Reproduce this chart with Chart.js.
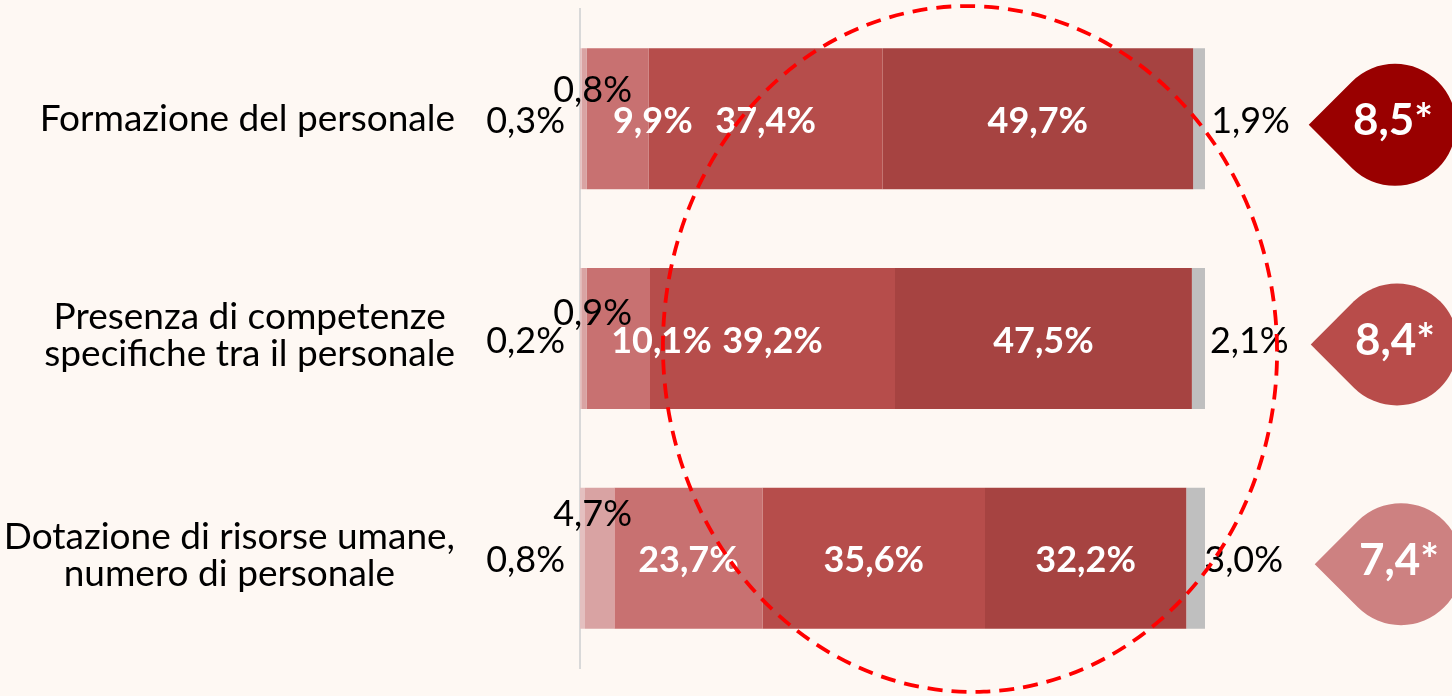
<!DOCTYPE html>
<html>
<head>
<meta charset="utf-8">
<script src="https://cdn.jsdelivr.net/npm/chart.js@4/dist/chart.umd.min.js"></script>
<style>
  html, body { margin: 0; padding: 0; background: #fef8f3; }
  #wrap { width: 1452px; height: 696px; position: relative; }
</style>
</head>
<body>
<div id="wrap"><canvas id="c" width="1452" height="696"></canvas></div>
<script>
// ---- DATA ----
const categories = [
  ["Formazione del personale"],
  ["Presenza di competenze", "specifiche tra il personale"],
  ["Dotazione di risorse umane,", "numero di personale"]
];
const seriesNames = ["s1", "s2", "s3", "s4", "s5", "nr"];
const s1 = [0.3, 0.2, 0.8];
const s2 = [0.8, 0.9, 4.7];
const s3 = [9.9, 10.1, 23.7];
const s4 = [37.4, 39.2, 35.6];
const s5 = [49.7, 47.5, 32.2];
const nr = [1.9, 2.1, 3.0];
const scores = [8.5, 8.4, 7.4];
const scoreLabels = ["8,5*", "8,4*", "7,4*"];

// ---- STYLE ----
const segColors = ["#e4c0c0", "#d9a3a3", "#c87171", "#b64d4b", "#a64341", "#bfbfbf"];
const dropColors = ["#990000", "#b84c4a", "#cd8181"];
const FONT = "Lato, 'Open Sans', sans-serif";
const FS_CAT = 37;
const FS = 36;

function fmt(v) { return v.toFixed(1).replace('.', ',') + '%'; }

function txt(ctx, s, x, yc, align, bold, color, size) {
  size = size || FS;
  ctx.font = (bold ? "bold " : "") + size + "px " + FONT;
  ctx.fillStyle = color;
  ctx.textAlign = align;
  ctx.textBaseline = "alphabetic";
  ctx.fillText(s, x, yc + size * 0.355);
}

const decor = {
  id: 'decor',
  beforeDraw(chart) {
    const ctx = chart.ctx;
    ctx.save();
    ctx.fillStyle = '#fef8f3';
    ctx.fillRect(0, 0, chart.width, chart.height);
    ctx.restore();
  },
  afterDraw(chart) {
    const ctx = chart.ctx;
    const ys = chart.scales.y;
    const left = chart.chartArea.left;
    ctx.save();
    // category labels: block right-aligned at 455, lines centered in block
    categories.forEach((lines, i) => {
      const yc = ys.getPixelForValue(i);
      ctx.font = FS_CAT + "px " + FONT;
      const w = Math.max(...lines.map(l => ctx.measureText(l).width));
      const cx = 455 - w / 2;
      const n = lines.length;
      lines.forEach((l, k) => {
        const y = yc + (k - (n - 1) / 2) * 37 - (n > 1 ? 3 : 0) - 1;
        txt(ctx, l, cx, y, 'center', false, '#000', FS_CAT);
      });
    });
    // value labels
    const d1dy = [-31, -28, -46];
    const d2dx = [35, 43, 0];
    chart.data.datasets.forEach((ds, di) => {
      const meta = chart.getDatasetMeta(di);
      meta.data.forEach((el, j) => {
        const v = ds.data[j];
        const yc = el.y + 1.5;
        const s = fmt(v);
        if (di === 0) {
          txt(ctx, s, left - 15, yc, 'right', false, '#000');
        } else if (di === 1) {
          txt(ctx, s, left + 52, yc + d1dy[j], 'right', false, '#000');
        } else if (di === 5) {
          txt(ctx, s, el.base + 18, yc, 'left', false, '#000');
        } else {
          const dx = di === 2 ? d2dx[j] : 0;
          txt(ctx, s, (el.x + el.base) / 2 + dx, yc, 'center', true, '#fff');
        }
      });
    });
    // dashed ellipse
    ctx.beginPath();
    ctx.setLineDash([15, 9]);
    ctx.lineWidth = 3.8;
    ctx.strokeStyle = '#ff0000';
    ctx.ellipse(970, 349, 307, 343, -0.04, 0, Math.PI * 2);
    ctx.stroke();
    ctx.setLineDash([]);
    // score drops
    const dropCx = [1395, 1397, 1401];
    const r = 61;
    scores.forEach((sc, i) => {
      const cy = ys.getPixelForValue(i) + 6;
      const cx = dropCx[i];
      const tip = cx - r * Math.SQRT2;
      ctx.beginPath();
      ctx.moveTo(tip, cy);
      ctx.lineTo(cx - r / Math.SQRT2, cy - r / Math.SQRT2);
      ctx.arc(cx, cy, r, -3 * Math.PI / 4, 3 * Math.PI / 4, false);
      ctx.closePath();
      ctx.fillStyle = dropColors[i];
      ctx.fill();
      txt(ctx, scoreLabels[i], cx - 2, cy - 5, 'center', true, '#fff', 44);
    });
    ctx.restore();
  }
};

const series = [s1, s2, s3, s4, s5, nr];
new Chart(document.getElementById('c'), {
  type: 'bar',
  data: {
    labels: categories.map(l => l.join(' ')),
    datasets: series.map((d, i) => ({
      label: seriesNames[i],
      data: d,
      backgroundColor: segColors[i],
      borderWidth: 0,
      barPercentage: 0.642,
      categoryPercentage: 1
    }))
  },
  options: {
    indexAxis: 'y',
    responsive: false,
    devicePixelRatio: 1,
    animation: false,
    layout: { padding: { left: 0, right: 247, top: 9, bottom: 28 } },
    plugins: { legend: { display: false }, tooltip: { enabled: false } },
    scales: {
      x: { stacked: true, min: 0, max: 100, display: false },
      y: {
        stacked: true,
        ticks: { display: false },
        grid: { display: false, drawTicks: false },
        border: { display: true, color: '#d9d9d9', width: 2 },
        afterFit: s => { s.width = 580; }
      }
    }
  },
  plugins: [decor]
});
</script>
</body>
</html>
